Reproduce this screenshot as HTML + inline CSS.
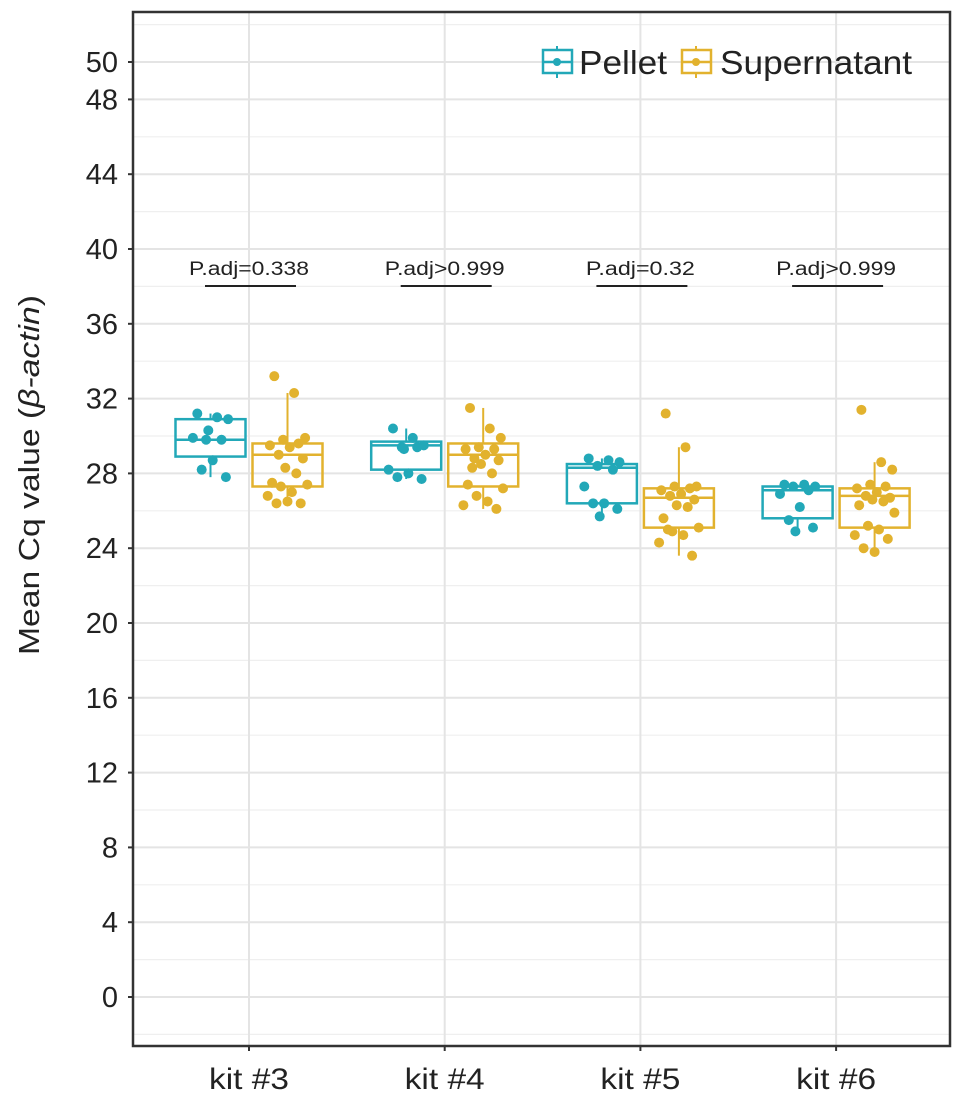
<!DOCTYPE html>
<html><head><meta charset="utf-8"><style>
body{margin:0;background:#fff}
svg{display:block;font-family:"Liberation Sans",Arial,sans-serif}
</style></head><body>
<svg id="chart" width="969" height="1099" viewBox="0 0 969 1099" xmlns="http://www.w3.org/2000/svg">
<rect width="969" height="1099" fill="#fff"/>
<g id="grid"></g>
<g id="marks"></g>
<g id="axes"></g>
<g id="legend">
  <g>
    <line x1="557" y1="46" x2="557" y2="78" stroke="#22A8B8" stroke-width="2"/>
    <rect x="543" y="50" width="29" height="23" fill="#fff" stroke="#22A8B8" stroke-width="2.5"/>
    <line x1="543" y1="62" x2="572" y2="62" stroke="#22A8B8" stroke-width="2.5"/>
    <circle cx="557" cy="62" r="4" fill="#22A8B8"/>
    <text x="579" y="74" font-size="33" fill="#222" textLength="88" lengthAdjust="spacingAndGlyphs">Pellet</text>
  </g>
  <g>
    <line x1="696" y1="46" x2="696" y2="78" stroke="#E2B22E" stroke-width="2"/>
    <rect x="682" y="50" width="29" height="23" fill="#fff" stroke="#E2B22E" stroke-width="2.5"/>
    <line x1="682" y1="62" x2="711" y2="62" stroke="#E2B22E" stroke-width="2.5"/>
    <circle cx="696" cy="62" r="4" fill="#E2B22E"/>
    <text x="720" y="74" font-size="33" fill="#222" textLength="192" lengthAdjust="spacingAndGlyphs">Supernatant</text>
  </g>
</g>
<text transform="translate(39,475) rotate(-90)" text-anchor="middle" font-size="29" fill="#222" textLength="360" lengthAdjust="spacingAndGlyphs">Mean Cq value (<tspan font-style="italic">β-actin</tspan>)</text>
</svg>
<script>
const categories = ["kit #3","kit #4","kit #5","kit #6"];
const pAdjLabels = ["P.adj=0.338","P.adj>0.999","P.adj=0.32","P.adj>0.999"];
const yTicks = [0,4,8,12,16,20,24,28,32,36,40,44,48,50];
// box stats: [lowerWhisker, q1, median, q3, upperWhisker]
const pelletStats = [[27.8,28.9,29.8,30.9,31.2],[27.7,28.2,29.5,29.7,30.4],[25.7,26.4,28.3,28.5,28.8],[24.9,25.6,27.1,27.3,27.4]];
const superStats = [[26.4,27.3,29.0,29.6,32.3],[26.1,27.3,29.0,29.6,31.5],[23.6,25.1,26.7,27.2,29.4],[23.8,25.1,26.8,27.2,28.6]];
const pelletPoints = [
 [31.2,31.0,30.9,29.8,29.8,29.9,28.7,28.2,27.8,30.3],
 [30.4,29.9,29.5,29.4,29.4,28.2,28.0,27.8,27.7,29.3],
 [28.8,28.7,28.6,28.4,28.2,27.3,26.4,26.4,26.1,25.7],
 [27.4,27.4,27.3,27.3,27.1,26.9,26.2,25.5,25.1,24.9]];
const superPoints = [
 [33.2,32.3,29.9,29.8,29.6,29.5,29.4,29.0,28.8,28.3,28.0,27.5,27.4,27.3,27.0,26.8,26.4,26.4,26.5],
 [31.5,30.4,29.9,29.4,29.3,29.3,29.0,28.8,28.7,28.5,28.0,27.4,27.2,26.8,26.5,26.3,26.1,28.3],
 [31.2,29.4,27.3,27.3,27.2,27.1,26.9,26.8,26.6,26.3,26.2,25.6,25.1,24.9,24.7,24.3,23.6,25.0],
 [31.4,28.6,28.2,27.4,27.3,27.2,27.0,26.8,26.7,26.6,26.5,26.3,25.9,25.2,25.0,24.7,24.5,24.0,23.8]];
const jitter = [-0.6,0.3,0.8,-0.2,0.5,-0.8,0.1,-0.4,0.7,-0.1,0.4,-0.7,0.9,-0.3,0.2,-0.9,0.6,-0.5,0.0];

const NS="http://www.w3.org/2000/svg";
const L=133,R=950,T=12,B=1046;
const y=v=>997-v*18.7;
const x=i=>249+i*195.7;
const DOD=38.5, BW=70;
const TEAL="#22A8B8", GOLD="#E2B22E";
function el(tag,attrs,parent){const e=document.createElementNS(NS,tag);for(const k in attrs)e.setAttribute(k,attrs[k]);parent.appendChild(e);return e;}
const grid=document.getElementById('grid'),marks=document.getElementById('marks'),axes=document.getElementById('axes');
for(let v=-2;v<=52;v+=2){
  const major=yTicks.includes(v);
  const g=el('line',{x1:L,x2:R,y1:y(v),y2:y(v),stroke:major?'#e4e4e4':'#efefef','stroke-width':major?2:1.2},grid);
  
  
}
categories.forEach((c,i)=>{
  const g=el('line',{x1:x(i),x2:x(i),y1:T,y2:B,stroke:'#e4e4e4','stroke-width':2},grid);
  
  
});
function box(stats,pts,cx,col,name){
  const g=el('g',{},marks);
  
  
  const [lo,q1,md,q3,hi]=stats;
  el('line',{x1:cx,x2:cx,y1:y(hi),y2:y(q3),stroke:col,'stroke-width':2},g);
  el('line',{x1:cx,x2:cx,y1:y(q1),y2:y(lo),stroke:col,'stroke-width':2},g);
  el('rect',{x:cx-BW/2,y:y(q3),width:BW,height:y(q1)-y(q3),fill:'none',stroke:col,'stroke-width':2.5},g);
  el('line',{x1:cx-BW/2,x2:cx+BW/2,y1:y(md),y2:y(md),stroke:col,'stroke-width':2.5},g);
  pts.forEach((v,k)=>{
    const p=el('circle',{cx:cx+jitter[k%jitter.length]*22,cy:y(v),r:5,fill:col},g);
    
    
  });
}
categories.forEach((c,i)=>{
  box(pelletStats[i],pelletPoints[i],x(i)-DOD,TEAL,'box-pellet-'+(i+3));
  box(superStats[i],superPoints[i],x(i)+DOD,GOLD,'box-supernatant-'+(i+3));
  const t=el('text',{x:x(i),y:275,'text-anchor':'middle','font-size':19,fill:'#222'},marks);
  t.textContent=pAdjLabels[i];
  t.setAttribute('textLength', pAdjLabels[i].length*10.9);
  t.setAttribute('lengthAdjust','spacingAndGlyphs');
  
  
  const l=el('line',{x1:x(i)-44,x2:x(i)+47,y1:286,y2:286,stroke:'#222','stroke-width':2},marks);
  
  
  const xl=el('text',{x:x(i),y:1089,'text-anchor':'middle','font-size':30,fill:'#222',textLength:80,lengthAdjust:'spacingAndGlyphs'},axes);
  xl.textContent=c;
  
  
  el('line',{x1:x(i),x2:x(i),y1:B,y2:B+5,stroke:'#333','stroke-width':2},axes);
});
yTicks.forEach(v=>{
  const t=el('text',{x:118,y:y(v)+10,'text-anchor':'end','font-size':29,fill:'#222'},axes);
  t.textContent=v;
  
  
  el('line',{x1:L-5,x2:L,y1:y(v),y2:y(v),stroke:'#333','stroke-width':2},axes);
});
const frame=el('rect',{x:L,y:T,width:R-L,height:B-T,fill:'none',stroke:'#333','stroke-width':2.5},axes);


</script>
</body></html>
